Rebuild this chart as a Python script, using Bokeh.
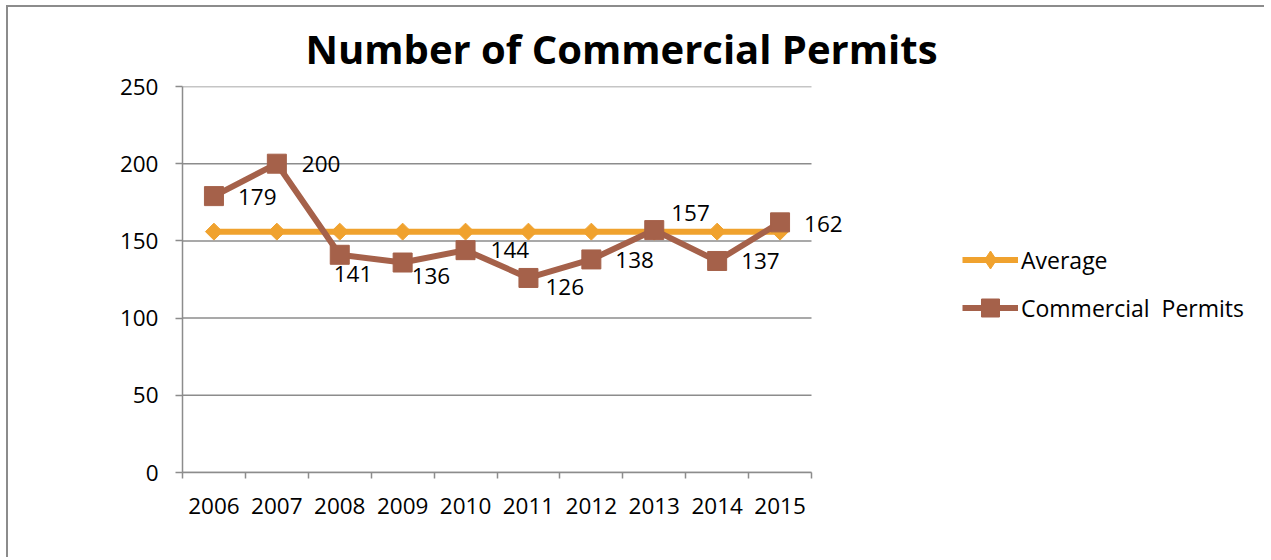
import numpy as np
from bokeh.plotting import figure
from bokeh.models import (ColumnDataSource, Range1d, FixedTicker, Legend, LegendItem, LabelSet)
from bokeh.core.properties import value
from bokeh.embed import file_html
from bokeh.resources import INLINE

# ---- data ----
years = ["2006", "2007", "2008", "2009", "2010", "2011", "2012", "2013", "2014", "2015"]
permits = [179, 200, 141, 136, 144, 126, 138, 157, 137, 162]
average = [156, 156, 156, 156, 156, 156, 156, 156, 156, 156]
y_ticks = [0, 50, 100, 150, 200, 250]

# label offsets (pixels): right, down
lab_dx = [24, 25, -6, 9, 25, 17, 24, 17, 24, 24]
lab_dy = [1, 0, 19, 13, 0, 9, 1, -17, 0, 2]

ORANGE = "#F0A22E"
BROWN = "#A5614A"
GRAY = "#8c8c8c"
FONT = "Open Sans"

W, H = 1258, 552
BL, BR, BT = 174, 10, 78
AXIS_PX = 629          # pixel length of the category axis
FRAME_H = 387

n = len(years)
xpos = list(np.arange(n) + 0.5)
frame_w = W - BL - BR
x_end = n * frame_w / AXIS_PX

src = ColumnDataSource(dict(x=xpos, permits=permits, average=average,
                            lab=[str(v) for v in permits],
                            dx=lab_dx, dy=[-d for d in lab_dy]))
grid_src = ColumnDataSource(dict(y=y_ticks))
# legend swatch source: no drawable point, only used for legend markers
swatch_src = ColumnDataSource(dict(x=[np.nan], y=[np.nan]))

p = figure(width=W, height=H, output_backend="svg", toolbar_location=None,
           x_range=Range1d(0, x_end), y_range=Range1d(0, 250),
           min_border_left=BL, min_border_right=BR, min_border_top=BT,
           min_border_bottom=H - BT - FRAME_H)
p.outline_line_color = None
p.styles = {"margin-left": "6px", "margin-top": "5px",
            "border-left": "2px solid #8c8c8c", "border-top": "2px solid #8c8c8c"}

# title
p.title.text = "Number of Commercial Permits"
p.title.align = "left"
p.title.offset = 123
p.title.text_font = FONT
p.title.text_font_style = "bold"
p.title.text_font_size = "40px"
p.title.text_color = "black"
p.title.standoff = 22

# axes
xa = p.xaxis[0]
xa.bounds = (0, n)
xa.ticker = FixedTicker(ticks=xpos, minor_ticks=list(range(n + 1)))
xa.major_label_overrides = {float(x): y for x, y in zip(xpos, years)}
xa.major_tick_line_color = None
xa.major_tick_out = 0
xa.major_tick_in = 0
xa.minor_tick_line_color = GRAY
xa.minor_tick_line_width = 1.5
xa.minor_tick_out = 6
xa.minor_tick_in = 0
xa.axis_line_color = GRAY
xa.axis_line_width = 1.5
xa.major_label_text_font = FONT
xa.major_label_text_font_size = "22.5px"
xa.major_label_text_color = "black"
xa.major_label_standoff = 19

ya = p.yaxis[0]
ya.ticker = FixedTicker(ticks=y_ticks)
ya.major_tick_line_color = GRAY
ya.major_tick_line_width = 1.5
ya.major_tick_out = 7
ya.major_tick_in = 0
ya.minor_tick_line_color = None
ya.axis_line_color = GRAY
ya.axis_line_width = 1.5
ya.major_label_text_font = FONT
ya.major_label_text_font_size = "22.5px"
ya.major_label_text_color = "black"
ya.major_label_standoff = 17

# horizontal gridlines limited to the category axis extent
p.xgrid.visible = False
p.ygrid.visible = False
p.segment(x0=0, x1=n, y0="y", y1="y", source=grid_src, line_color=GRAY,
          line_width=1.5, level="underlay")

# series
l_avg = p.line("x", "average", source=src, line_color=ORANGE, line_width=6)
m_avg = p.scatter("x", "average", source=src, marker="square", angle=np.pi / 4, size=12,
                  fill_color=ORANGE, line_color=ORANGE)
l_per = p.line("x", "permits", source=src, line_color=BROWN, line_width=6)
m_per = p.scatter("x", "permits", source=src, marker="square", size=19,
                  fill_color=BROWN, line_color=BROWN)

# legend-only marker renderers (their source holds no drawable point)
lg_avg = p.scatter("x", "y", source=swatch_src, marker="diamond", size=18,
                   fill_color=ORANGE, line_color=ORANGE)
lg_per = p.scatter("x", "y", source=swatch_src, marker="square", size=19,
                   fill_color=BROWN, line_color=BROWN)

labels = LabelSet(x="x", y="permits", text="lab", source=src, x_offset="dx", y_offset="dy",
                  text_font=value(FONT), text_font_size="22.5px", text_color="black",
                  text_align="left", text_baseline="middle")
p.add_layout(labels)

legend = Legend(items=[LegendItem(label="Average", renderers=[l_avg, lg_avg]),
                       LegendItem(label="Commercial \u00a0Permits", renderers=[l_per, lg_per])],
                location=(780, 142))
legend.padding = 0
legend.margin = 0
legend.border_line_color = None
legend.background_fill_alpha = 0
legend.glyph_width = 56
legend.glyph_height = 45
legend.label_height = 45
legend.spacing = 3
legend.label_standoff = 3
legend.label_text_font = FONT
legend.label_text_font_size = "23px"
legend.label_text_color = "black"
p.add_layout(legend, "center")

open("out.html", "w").write(file_html(p, INLINE))
